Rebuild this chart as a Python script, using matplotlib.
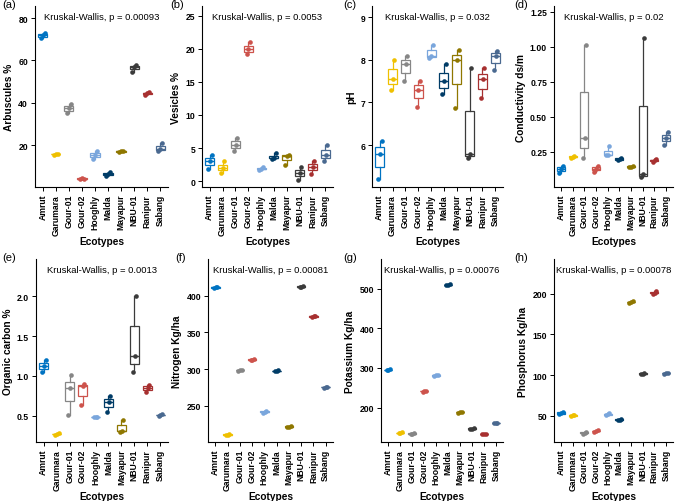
import numpy as np
import matplotlib
matplotlib.use("Agg")
import matplotlib.pyplot as plt

plt.rcParams['font.family'] = ['Liberation Sans', 'DejaVu Sans']

ecotypes = ["Amrut", "Garumara", "Gour-01", "Gour-02", "Hooghly",
            "Malda", "Mayapur", "NBU-01", "Ranipur", "Sabang"]
colors = ["#0073C2", "#EFC000", "#868686", "#CD534C", "#7AA6DC",
          "#003C67", "#8F7700", "#3B3B3B", "#A73030", "#4A6990"]

# three replicates per ecotype
arbuscules = [[70.5, 72, 73], [15.5, 16, 15.8], [35, 37.5, 39.5], [4, 4.5, 4.2],
              [13.5, 15.5, 17], [5.5, 6.5, 7.5], [16.5, 17, 17.3], [54.5, 57, 58],
              [43.5, 44.5, 45], [17, 18, 21]]
vesicles = [[1.8, 3, 4], [1.2, 2, 3], [4.5, 5.5, 6.5], [19.2, 20, 21],
            [1.7, 1.9, 2.1], [3.4, 3.5, 4.2], [2.5, 3.8, 4], [0.2, 1.2, 2.2],
            [1, 2.2, 3], [3, 4, 5.5]]
ph = [[5.2, 5.8, 6.1], [7.3, 7.55, 8.0], [7.5, 7.9, 8.1], [6.9, 7.3, 7.5],
      [8.05, 8.1, 8.35], [7.2, 7.5, 7.9], [6.87, 8.0, 8.22], [5.7, 5.8, 7.8],
      [7.1, 7.55, 7.8], [7.75, 8.1, 8.2]]
conductivity = [[0.1, 0.13, 0.15], [0.21, 0.215, 0.22], [0.21, 0.35, 1.01],
                [0.11, 0.13, 0.15], [0.23, 0.23, 0.29], [0.19, 0.2, 0.21],
                [0.14, 0.145, 0.15], [0.07, 0.09, 1.06], [0.18, 0.19, 0.2],
                [0.3, 0.35, 0.39]]
organic_carbon = [[1.05, 1.12, 1.2], [0.26, 0.27, 0.28], [0.51, 0.85, 1.01],
                  [0.63, 0.87, 0.9], [0.48, 0.48, 0.49], [0.55, 0.67, 0.75],
                  [0.3, 0.31, 0.45], [1.05, 1.25, 2.0], [0.8, 0.85, 0.89],
                  [0.5, 0.51, 0.52]]
nitrogen = [[410, 411, 412], [210, 211, 212], [298, 298.5, 299], [312, 313, 314],
            [241, 242, 243], [297, 297.5, 298.5], [221, 222, 223], [411, 412, 413],
            [371, 371.5, 372], [275, 275.5, 276]]
potassium = [[294, 295, 297], [135, 136, 137], [133, 134, 135], [240, 242, 243],
             [280, 281, 283], [509, 510, 511], [187, 188, 189], [146, 147, 148],
             [132, 133, 134], [160, 161, 162]]
phosphorus = [[52, 53.5, 55], [49.5, 50.5, 51], [28, 29, 30], [30.5, 31.5, 32],
              [51, 52, 53], [44.5, 45, 46], [189, 190, 191], [101.5, 102, 103],
              [200, 201.5, 203], [102, 102.5, 103]]

panels = [
    ("(a)", "Arbuscules %", arbuscules, "0.00093", (0.2, 85.7), [20, 40, 60, 80], "{:g}"),
    ("(b)", "Vesicles %", vesicles, "0.0053", (-0.9, 26.5), [0, 5, 10, 15, 20, 25], "{:g}"),
    ("(c)", "pH", ph, "0.032", (5.02, 9.26), [6, 7, 8, 9], "{:g}"),
    ("(d)", "Conductivity ds/m", conductivity, "0.02", (0.0, 1.29),
     [0.25, 0.5, 0.75, 1.0, 1.25], "{:.2f}"),
    ("(e)", "Organic carbon %", organic_carbon, "0.0013", (0.17, 2.47),
     [0.5, 1.0, 1.5, 2.0], "{:.1f}"),
    ("(f)", "Nitrogen Kg/ha", nitrogen, "0.00081", (201, 449.6), [250, 300, 350, 400], "{:g}"),
    ("(g)", "Potassium Kg/ha", potassium, "0.00076", (113, 575), [200, 300, 400, 500], "{:g}"),
    ("(h)", "Phosphorus Kg/ha", phosphorus, "0.00078", (17.8, 242.8), [50, 100, 150, 200], "{:g}"),
]

W, H = 676, 502
# axes boxes in pixels: left, top, right, bottom
boxes = [(35, 7, 168, 188), (202, 7, 333, 188), (372, 7, 503, 188), (554, 7, 673, 188),
         (36, 260, 168, 443), (208, 260, 333, 443), (381, 260, 503, 443), (554, 260, 673, 443)]
label_x = [2, 170, 343, 514, 2, 175, 343, 514]
label_y = [0, 0, 0, 0, 253, 253, 253, 253]

jitter = np.array([-0.13, 0.02, 0.14])

fig = plt.figure(figsize=(W / 100, H / 100), dpi=100)
for k, (tag, ylab, data, pval, ylim, yticks, fmt) in enumerate(panels):
    l, t, r, b = boxes[k]
    ax = fig.add_axes([l / W, 1 - b / H, (r - l) / W, (b - t) / H])
    pos = np.arange(1, len(ecotypes) + 1)
    bp = ax.boxplot(data, positions=pos, widths=0.7, showfliers=False,
                    patch_artist=True, manage_ticks=False)
    for i, c in enumerate(colors):
        bp['boxes'][i].set(facecolor="white", edgecolor=c, linewidth=0.9)
        bp['medians'][i].set(color=c, linewidth=1.0)
        for w in bp['whiskers'][2 * i:2 * i + 2]:
            w.set(color=c, linewidth=0.9)
        for cap in bp['caps'][2 * i:2 * i + 2]:
            cap.set_visible(False)
        ax.scatter(pos[i] + jitter, data[i], s=11, color=c, zorder=3, linewidths=0)
    ax.set_xlim(0.4, 10.6)
    ax.set_ylim(*ylim)
    ax.set_xticks(pos)
    ax.set_xticklabels(ecotypes, rotation=90, fontsize=6.2, fontweight="bold")
    ax.set_yticks(yticks)
    ax.set_yticklabels([fmt.format(v) for v in yticks], fontsize=6.2, fontweight="bold")
    ax.tick_params(direction="out", length=3, width=0.7, colors="black", pad=2)
    for s in ["top", "right"]:
        ax.spines[s].set_visible(False)
    for s in ["left", "bottom"]:
        ax.spines[s].set_linewidth(0.8)
    ax.set_xlabel("Ecotypes", fontsize=7.3, fontweight="bold", labelpad=1)
    ax.set_ylabel(ylab, fontsize=7.3, fontweight="bold", labelpad=3)
    ax.text(0.5, 0.965, "Kruskal-Wallis, p = " + pval, transform=ax.transAxes,
            ha="center", va="top", fontsize=6.8)
    fig.text(label_x[k] / W, 1 - label_y[k] / H, tag, ha="left", va="top", fontsize=8)

fig.savefig("out.png", dpi=100)
